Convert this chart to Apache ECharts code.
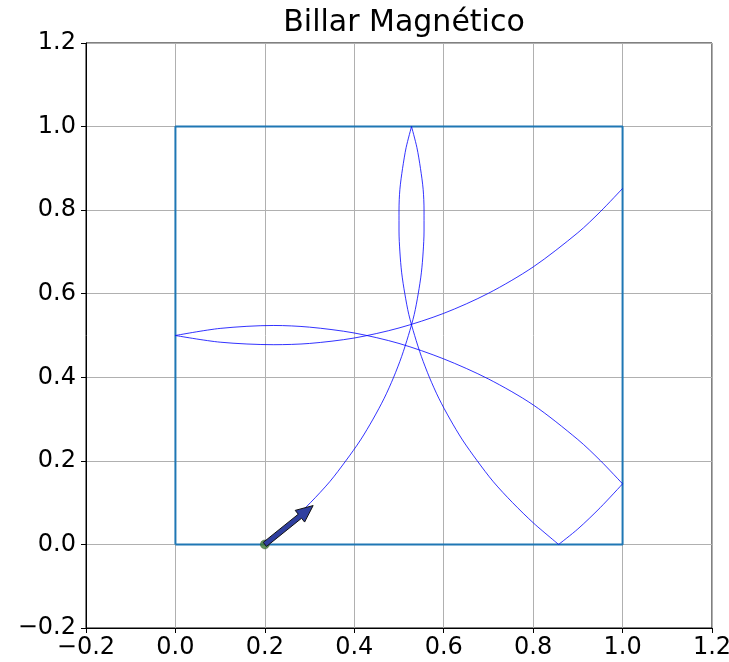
<!DOCTYPE html>
<html>
<head>
<meta charset="utf-8">
<script src="https://cdn.jsdelivr.net/npm/echarts@6/dist/echarts.min.js"></script>
<style>
  html, body { margin: 0; padding: 0; background: #ffffff; }
  #chart { width: 729px; height: 662px; }
</style>
</head>
<body>
<div id="chart"></div>
<script>
// ---- data ----
const tickValues = [-0.2, 0.0, 0.2, 0.4, 0.6, 0.8, 1.0, 1.2];

// table border (unit square)
const squareCorners = [[0, 0], [1, 0], [1, 1], [0, 1], [0, 0]];

// trajectory, one arc between each pair of wall hits
const arc1 = [[0.200, 0.000], [0.254, 0.050], [0.302, 0.100], [0.345, 0.150], [0.381, 0.200],
              [0.414, 0.250], [0.442, 0.300], [0.467, 0.350], [0.488, 0.400], [0.506, 0.450],
              [0.521, 0.500], [0.534, 0.550], [0.543, 0.600], [0.550, 0.650], [0.554, 0.700],
              [0.556, 0.750], [0.556, 0.800], [0.554, 0.850], [0.548, 0.900], [0.540, 0.950],
              [0.528, 1.000]];
const arc2 = [[0.528, 1.000], [0.516, 0.950], [0.508, 0.900], [0.502, 0.850], [0.500, 0.800],
              [0.500, 0.750], [0.502, 0.700], [0.506, 0.650], [0.513, 0.600], [0.522, 0.550],
              [0.535, 0.500], [0.550, 0.450], [0.568, 0.400], [0.589, 0.350], [0.614, 0.300],
              [0.642, 0.250], [0.675, 0.200], [0.711, 0.150], [0.754, 0.100], [0.802, 0.050],
              [0.857, 0.000]];
const arc3 = [[0.857, 0.000], [0.900, 0.037], [0.950, 0.088], [1.000, 0.145]];
const arc4 = [[1.000, 0.145], [0.950, 0.201], [0.900, 0.251], [0.800, 0.334], [0.700, 0.396],
              [0.600, 0.444], [0.500, 0.481], [0.400, 0.506], [0.300, 0.520], [0.220, 0.524],
              [0.100, 0.517], [0.000, 0.500]];
const arc5 = [[0.000, 0.500], [0.100, 0.484], [0.220, 0.478], [0.300, 0.481], [0.400, 0.494],
              [0.500, 0.518], [0.600, 0.553], [0.700, 0.601], [0.800, 0.664], [0.900, 0.746],
              [0.950, 0.796], [1.000, 0.852]];

// initial position and velocity arrow
const startPoint = [0.2, 0.0];
const arrowTip = [0.308, 0.093];

// ---- chart ----
const chart = echarts.init(document.getElementById('chart'), null, { renderer: 'canvas' });

const fontFamily = '"DejaVu Sans", sans-serif';
const fmt = v => (v < -1e-9 ? '\u2212' : '') + Math.abs(v).toFixed(1);

function axisCommon(margin) {
  return {
    type: 'value',
    min: tickValues[0],
    max: tickValues[tickValues.length - 1],
    interval: 0.2,
    axisLine: { show: true, onZero: false, lineStyle: { color: '#000', width: 1 } },
    axisTick: { show: true, inside: false, length: 5, lineStyle: { color: '#000', width: 1 } },
    axisLabel: { color: '#000', fontSize: 24, fontFamily: fontFamily, formatter: fmt, margin: margin,
                 showMinLabel: true, showMaxLabel: true, hideOverlap: false },
    splitLine: { show: true, lineStyle: { color: '#b0b0b0', width: 1 } }
  };
}

const arcStyle = { color: 'rgba(0,0,255,0.8)', width: 1 };
function arcSeries(data) {
  return {
    type: 'line', data: data, smooth: 0.3, symbol: 'none',
    lineStyle: arcStyle, itemStyle: { color: arcStyle.color }, z: 3
  };
}

const option = {
  animation: false,
  backgroundColor: '#ffffff',
  title: {
    text: 'Billar Magnético',
    left: 399, top: 3, textAlign: 'center',
    textStyle: { fontSize: 30, fontWeight: 'normal', color: '#000', fontFamily: fontFamily }
  },
  grid: {
    left: 86, right: 17, top: 43, bottom: 34,
    outerBoundsMode: 'none', containLabel: false,
    show: true, borderColor: '#000', borderWidth: 1, backgroundColor: 'transparent'
  },
  xAxis: Object.assign(axisCommon(8), { position: 'bottom' }),
  yAxis: Object.assign(axisCommon(10), { position: 'left' }),
  series: [
    {
      type: 'line', data: squareCorners, symbol: 'none',
      lineStyle: { color: '#1f77b4', width: 2 }, itemStyle: { color: '#1f77b4' }, z: 2
    },
    arcSeries(arc1), arcSeries(arc2), arcSeries(arc3), arcSeries(arc4), arcSeries(arc5),
    {
      type: 'scatter', data: [startPoint], symbol: 'circle', symbolSize: 9,
      itemStyle: { color: '#3b7a35', borderColor: '#2a4a25', borderWidth: 0.5 }, z: 4
    },
    {
      type: 'custom', z: 5,
      data: [[startPoint[0], startPoint[1], arrowTip[0], arrowTip[1]]],
      encode: { x: [0, 2], y: [1, 3] },
      renderItem: function (params, api) {
        const p0 = api.coord([api.value(0), api.value(1)]);
        const p1 = api.coord([api.value(2), api.value(3)]);
        const dx = p1[0] - p0[0], dy = p1[1] - p0[1];
        const L = Math.sqrt(dx * dx + dy * dy);
        const ux = dx / L, uy = dy / L, nx = -uy, ny = ux;
        const shaftHalf = 2.6, headHalf = 7.5, headLen = 17;
        const bx = p1[0] - ux * headLen, by = p1[1] - uy * headLen;
        const pts = [
          [p0[0] + nx * shaftHalf, p0[1] + ny * shaftHalf],
          [bx + nx * shaftHalf, by + ny * shaftHalf],
          [bx + nx * headHalf, by + ny * headHalf],
          [p1[0], p1[1]],
          [bx - nx * headHalf, by - ny * headHalf],
          [bx - nx * shaftHalf, by - ny * shaftHalf],
          [p0[0] - nx * shaftHalf, p0[1] - ny * shaftHalf]
        ];
        return {
          type: 'polygon',
          shape: { points: pts },
          style: { fill: '#2f3f9f', stroke: '#111111', lineWidth: 1 }
        };
      }
    }
  ]
};

chart.setOption(option);
</script>
</body>
</html>
